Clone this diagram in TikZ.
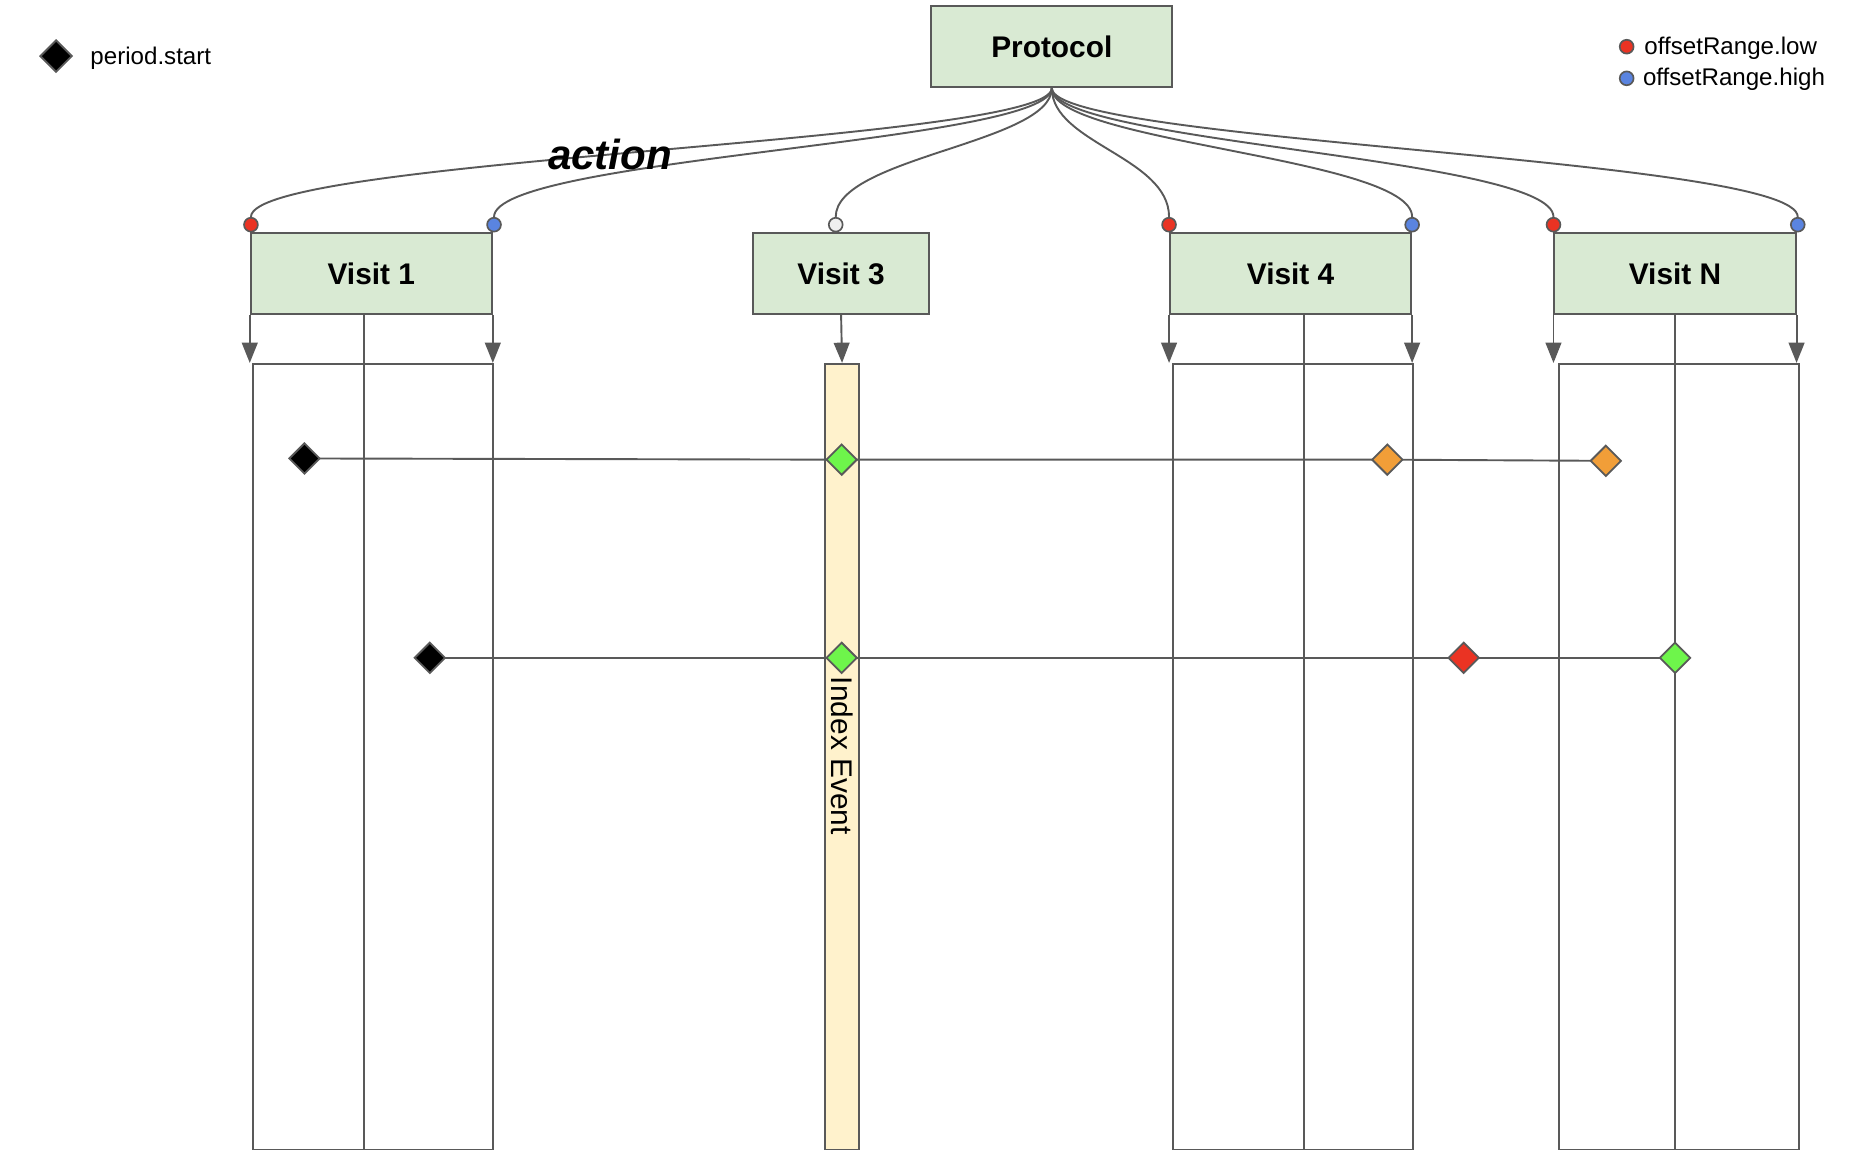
\documentclass[tikz,border=0pt]{standalone}
\usepackage{fontspec}
\setmainfont{Liberation Sans}
\usetikzlibrary{shapes.geometric,arrows.meta}
\definecolor{ln}{HTML}{595959}
\definecolor{boxg}{HTML}{D9EAD3}
\definecolor{idxy}{HTML}{FFF2CC}
\definecolor{mred}{HTML}{EA3323}
\definecolor{mblue}{HTML}{5A84E0}
\definecolor{mwhite}{HTML}{EFEFEF}
\definecolor{morange}{HTML}{F19E38}
\definecolor{mgreen}{HTML}{6EF54B}
\pgfdeclarelayer{bg}
\pgfdeclarelayer{mid}
\pgfsetlayers{bg,mid,main}
\tikzset{
  conn/.style={draw=ln, line width=0.8pt},
  arr/.style={conn, -{Triangle[length=8.5pt,width=6.6pt]}},
  boxst/.style={draw=ln, fill=boxg, line width=0.8pt, minimum height=34pt, inner sep=0pt,
    font=\bfseries\fontsize{12.5}{15}\selectfont},
  lanest/.style={draw=ln, line width=0.8pt, inner sep=0pt, anchor=north west, minimum height=329pt},
  dmd/.style={diamond, draw=ln, line width=0.75pt, minimum width=13pt, minimum height=13pt, inner sep=0pt},
  dot/.style={circle, draw=ln, line width=0.7pt, minimum size=5.8pt, inner sep=0pt},
  legtxt/.style={anchor=base west, inner sep=0pt, font=\fontsize{10.1}{12}\selectfont},
}
\begin{document}
\begin{tikzpicture}[x=0.5pt,y=-0.5pt]
\useasboundingbox (0,0) rectangle (1568,976.6);

% boxes
\node[boxst, minimum width=101pt] (proto) at (881,39) {Protocol};
\node[boxst, minimum width=101pt] (v1) at (311,229) {Visit 1};
\node[boxst, minimum width=73.5pt] (v3) at (704.5,229) {Visit 3};
\node[boxst, minimum width=101pt] (v4) at (1081,229) {Visit 4};
\node[boxst, minimum width=101pt] (vN) at (1403,229) {Visit N};

% lanes
\begin{pgfonlayer}{bg}
\node[lanest, minimum width=100.5pt] (lane1) at (211,304) {};
\node[lanest, minimum width=100.5pt] (lane4) at (982,304) {};
\node[lanest, minimum width=100.5pt] (laneN) at (1305,304) {};
\node[lanest, minimum width=14.5pt, fill=idxy] (idx) at (690,304) {};
\end{pgfonlayer}

% connection dots
\node[dot, fill=mred]   (c1a) at ([yshift=3pt,xshift=0.5pt]v1.north west) {};
\node[dot, fill=mblue]  (c1b) at ([yshift=3pt,xshift=0.5pt]v1.north east) {};
\node[dot, fill=mwhite] (c3)  at ([yshift=3pt,xshift=-2.25pt]v3.north) {};
\node[dot, fill=mred]   (c4a) at ([yshift=3pt]v4.north west) {};
\node[dot, fill=mblue]  (c4b) at ([yshift=3pt]v4.north east) {};
\node[dot, fill=mred]   (cNa) at ([yshift=3pt]vN.north west) {};
\node[dot, fill=mblue]  (cNb) at ([yshift=3pt,xshift=0.5pt]vN.north east) {};

% curved connectors
\begin{pgfonlayer}{mid}
\foreach \t in {c1a,c1b,c3,c4a,c4b,cNa,cNb}
  \draw[conn] (proto.south) .. controls +(0,46) and +(0,-50) .. (\t.north);
\end{pgfonlayer}

\node[font=\bfseries\itshape\fontsize{17.6}{20}\selectfont, inner sep=0pt] (act) at (511,129) {action};

% arrows into lanes
\draw[arr] (v1.south west) -- (v1.south west |- lane1.north);
\draw[arr] (v1.south east) -- (v1.south east |- lane1.north);
\draw[arr] (v3.south) -- (idx.north);
\draw[arr] (v4.south west) -- (v4.south west |- lane4.north);
\draw[arr] (v4.south east) -- (v4.south east |- lane4.north);
\draw[arr] (vN.south west) -- (vN.south west |- laneN.north);
\draw[arr] (vN.south east) -- (vN.south east |- laneN.north);

% middle lines
\coordinate (m1) at (305,962);
\coordinate (m4) at (1092,962);
\coordinate (mN) at (1403,962);
\begin{pgfonlayer}{bg}
\draw[conn] (m1 |- v1.south) -- (m1);
\draw[conn] (m4 |- v4.south) -- (m4);
\draw[conn] (mN |- vN.south) -- (mN);
\end{pgfonlayer}

% index event label
\node[rotate=-90, inner sep=0pt, font=\fontsize{12.5}{15}\selectfont] (idxlbl) at (705,633) {Index Event};

% diamonds
\node[dmd, fill=black]   (d1a) at (255,384) {};
\node[dmd, fill=mgreen]  (d1b) at (705,385) {};
\node[dmd, fill=morange] (d1c) at (1162,385) {};
\node[dmd, fill=morange] (d1d) at (1345,386) {};
\node[dmd, fill=black]   (d2a) at (360,551) {};
\node[dmd, fill=mgreen]  (d2b) at (705,551) {};
\node[dmd, fill=mred]    (d2c) at (1226,551) {};
\node[dmd, fill=mgreen]  (d2d) at (1403,551) {};

\begin{pgfonlayer}{mid}
\draw[conn] (d1a.center) -- (d1b.center) -- (d1c.center) -- (d1d.center);
\draw[conn] (d2a.center) -- (d2b.center) -- (d2c.center) -- (d2d.center);
\end{pgfonlayer}

% legends
\node[dmd, fill=black, minimum width=13.5pt, minimum height=13.5pt] (legd) at (47,47) {};
\node[legtxt] (legdt) at (75.4,53.9) {period.start};
\node[dot, fill=mred]  (legr) at (1362.5,39.1) {};
\node[legtxt] (legrt) at (1377,45.5) {offsetRange.low};
\node[dot, fill=mblue] (legb) at (1362.5,65.6) {};
\node[legtxt] (legbt) at (1375.8,71.2) {offsetRange.high};
\end{tikzpicture}
\end{document}
